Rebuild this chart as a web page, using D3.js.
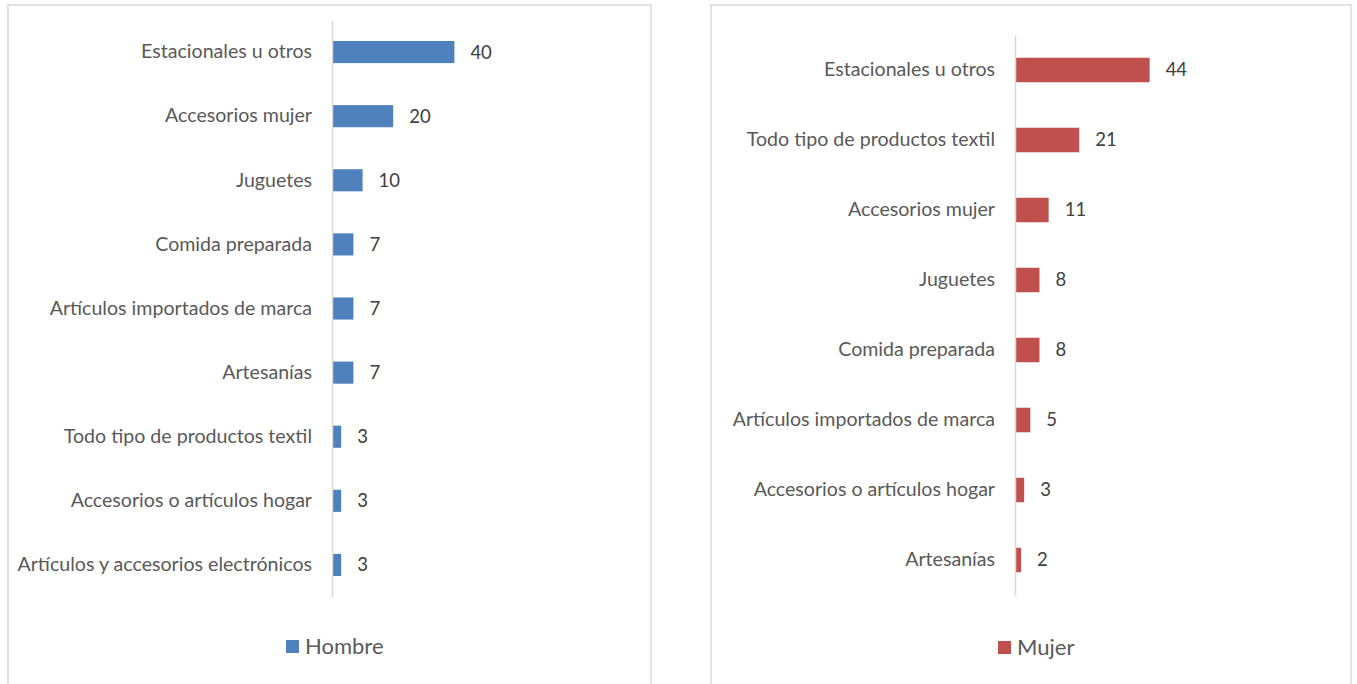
<!DOCTYPE html>
<html><head><meta charset="utf-8">
<script src="https://cdn.jsdelivr.net/npm/d3@7"></script>
<style>body{margin:0;background:#fff}svg{display:block}</style>
</head><body><svg id="c" width="1357" height="684"></svg>
<script>
const hombreCats = ["Estacionales u otros","Accesorios mujer","Juguetes","Comida preparada","Artículos importados de marca","Artesanías","Todo tipo de productos textil","Accesorios o artículos hogar","Artículos y accesorios electrónicos"];
const hombreVals = [40,20,10,7,7,7,3,3,3];
const mujerCats = ["Estacionales u otros","Todo tipo de productos textil","Accesorios mujer","Juguetes","Comida preparada","Artículos importados de marca","Accesorios o artículos hogar","Artesanías"];
const mujerVals = [44,21,11,8,8,5,3,2];
const seriesNames = ["Hombre","Mujer"];
const colors = ["#4F81BD","#C0504D"];

const svg = d3.select("#c");
const FONT = "Lato, 'Open Sans', sans-serif";

const panels = [
  {cats:hombreCats, vals:hombreVals, name:seriesNames[0], color:colors[0],
   box:[8,5,651,700], axisX:332, y0:20, y1:597, pad:0.655, legX:286, legY:640},
  {cats:mujerCats, vals:mujerVals, name:seriesNames[1], color:colors[1],
   box:[711,5,1351,700], axisX:1015, y0:35, y1:595, pad:0.65, legX:998, legY:641}
];

panels.forEach(p=>{
  const g = svg.append("g");
  g.append("rect").attr("x",p.box[0]).attr("y",p.box[1])
    .attr("width",p.box[2]-p.box[0]).attr("height",p.box[3]-p.box[1])
    .attr("fill","#fff").attr("stroke","#d9d9d9").attr("stroke-width",1.5);
  const x = d3.scaleLinear().domain([0,100]).range([p.axisX, p.axisX+306]);
  const y = d3.scaleBand().domain(p.cats).range([p.y0,p.y1]).paddingInner(p.pad).paddingOuter(p.pad/2);
  const data = p.cats.map((c,i)=>({c, v:p.vals[i]}));
  g.selectAll(".bar").data(data).join("rect")
    .attr("x",x(0)).attr("y",d=>y(d.c)).attr("width",d=>x(d.v)-x(0)).attr("height",y.bandwidth())
    .attr("fill",p.color);
  const ax = g.append("g").attr("transform",`translate(${p.axisX},0)`)
    .call(d3.axisLeft(y).tickSize(0).tickPadding(20));
  ax.select(".domain").attr("stroke","#d9d9d9").attr("stroke-width",1.5);
  ax.selectAll("text").attr("font-family",FONT).attr("font-size",19.6).attr("fill","#595959");
  g.selectAll(".lab").data(data).join("text")
    .attr("x",d=>x(d.v)+16).attr("y",d=>y(d.c)+y.bandwidth()/2).attr("dy","0.35em")
    .attr("font-family",FONT).attr("font-size",18.5).attr("fill","#404040")
    .text(d=>d.v);
  g.append("rect").attr("x",p.legX).attr("y",p.legY).attr("width",13).attr("height",13).attr("fill",p.color);
  g.append("text").attr("x",p.legX+19).attr("y",p.legY+6.5).attr("dy","0.36em")
    .attr("font-family",FONT).attr("font-size",22).attr("fill","#595959").text(p.name);
});
</script></body></html>
